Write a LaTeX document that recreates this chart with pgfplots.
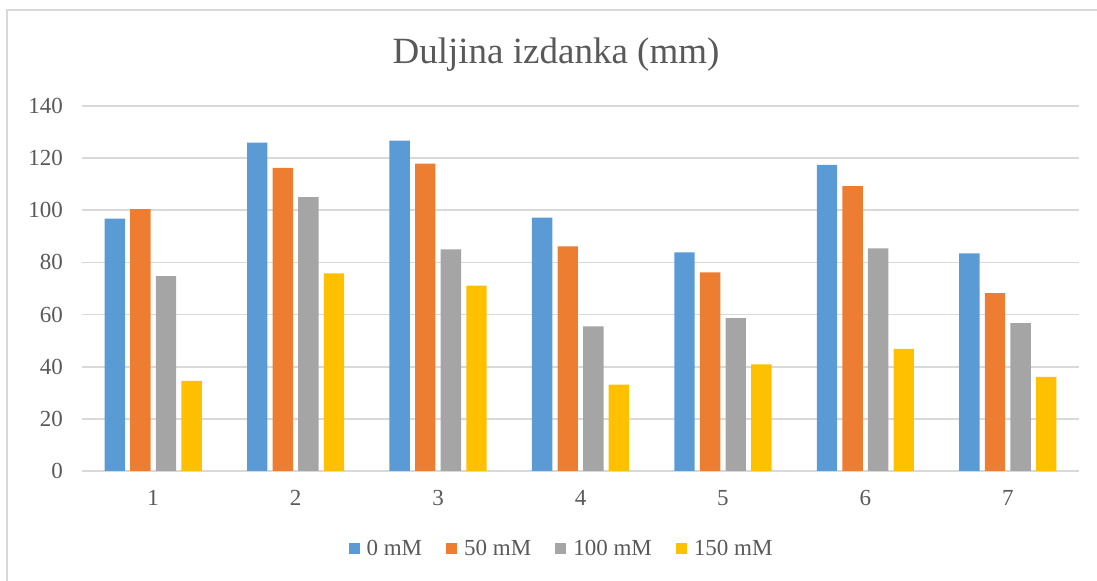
\documentclass[border=0pt]{standalone}
\usepackage{fontspec}
\setmainfont{Liberation Serif}
\usepackage{pgfplots}
\pgfplotsset{compat=1.18}
\definecolor{cBlue}{HTML}{5B9BD5}
\definecolor{cOrange}{HTML}{ED7D31}
\definecolor{cGray}{HTML}{A5A5A5}
\definecolor{cYellow}{HTML}{FFC000}
\definecolor{cText}{HTML}{595959}
\definecolor{cGrid}{HTML}{D9D9D9}
\begin{document}
\begin{tikzpicture}
\useasboundingbox (0,0) rectangle (548.5pt,290.5pt);
\draw[cGrid, line width=0.6pt] (3.5pt,0) -- (3.5pt,285.5pt) -- (548.5pt,285.5pt);
\node[anchor=base, text=cText, font=\fontsize{18.5}{20}\selectfont] at (278pt,258.5pt) {Duljina izdanka (mm)};
\begin{axis}[
  at={(41pt,55pt)}, anchor=south west,
  scale only axis, width=498.5pt, height=182.5pt,
  ybar=2.6pt, bar width=10.2pt,
  xmin=0.5, xmax=7.5, ymin=0, ymax=140,
  xtick={1,...,7}, ytick={0,20,...,140},
  major tick length=0pt,
  axis line style={draw=none},
  axis x line*=bottom, axis y line*=left,
  ymajorgrids, grid style={cGrid, line width=0.8pt},
  tick label style={text=cText, font=\fontsize{11.5}{13}\selectfont},
  /pgf/number format/assume math mode=true,
  yticklabel style={xshift=-6pt},
  xticklabel style={yshift=-6pt},
  legend style={at={(0.482,-0.2137)}, anchor=center, draw=none, fill=none,
    legend columns=-1, font=\fontsize{11.5}{13}\selectfont, text=cText,
    /tikz/every odd column/.append style={column sep=1.5pt},
    /tikz/every even column/.append style={column sep=10pt}},
  legend image code/.code={\fill[#1] (0pt,-2.75pt) rectangle (5.5pt,2.75pt);},
  clip=false,
]
\draw[cGrid, line width=0.8pt] (axis cs:0.5,0) -- (axis cs:7.5,0);
\addplot[fill=cBlue, draw=none] coordinates {(1,96.8) (2,125.9) (3,126.7) (4,97.2) (5,83.9) (6,117.4) (7,83.5)};
\addplot[fill=cOrange, draw=none] coordinates {(1,100.4) (2,116.3) (3,117.9) (4,86.2) (5,76.2) (6,109.3) (7,68.2)};
\addplot[fill=cGray, draw=none] coordinates {(1,74.7) (2,105.0) (3,85.0) (4,55.5) (5,58.6) (6,85.4) (7,56.7)};
\addplot[fill=cYellow, draw=none] coordinates {(1,34.6) (2,75.8) (3,71.1) (4,33.1) (5,40.9) (6,46.8) (7,36.1)};
\legend{0 mM, 50 mM, 100 mM, 150 mM}
\end{axis}
\end{tikzpicture}
\end{document}
